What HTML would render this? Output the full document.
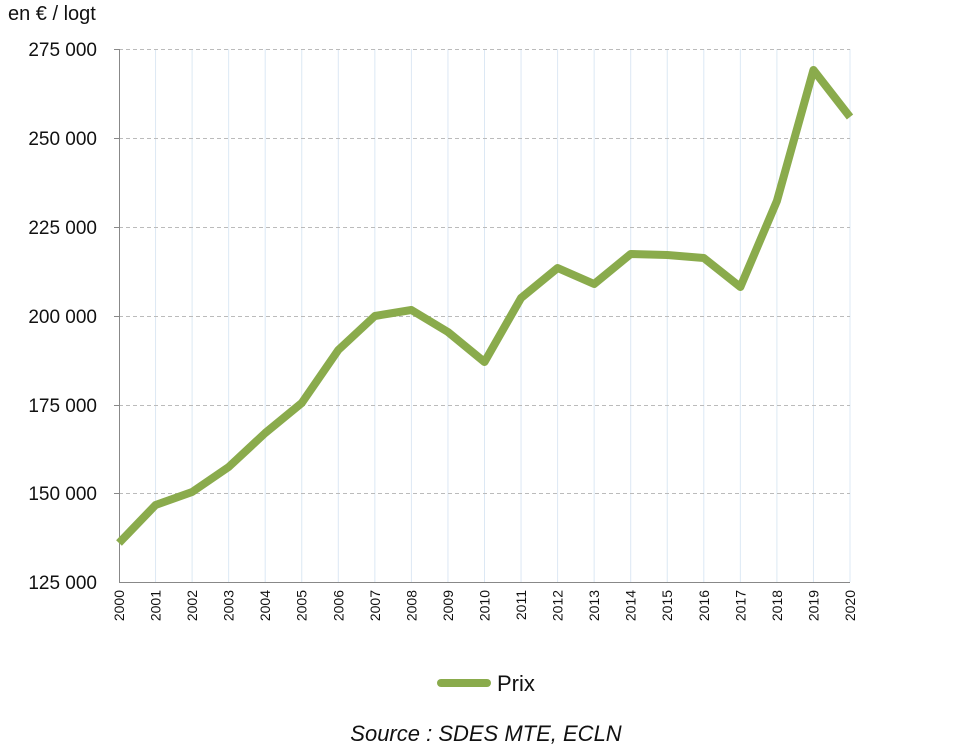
<!DOCTYPE html>
<html><head><meta charset="utf-8"><style>body{margin:0;background:#fff}svg{display:block}</style></head><body>
<svg width="973" height="751" xmlns="http://www.w3.org/2000/svg" font-family="Liberation Sans, sans-serif">
<rect width="973" height="751" fill="#fff"/>
<g stroke="#dce8f4" stroke-width="1">
<line x1="155.55" y1="49" x2="155.55" y2="582"/><line x1="192.1" y1="49" x2="192.1" y2="582"/><line x1="228.65" y1="49" x2="228.65" y2="582"/><line x1="265.2" y1="49" x2="265.2" y2="582"/><line x1="301.75" y1="49" x2="301.75" y2="582"/><line x1="338.3" y1="49" x2="338.3" y2="582"/><line x1="374.85" y1="49" x2="374.85" y2="582"/><line x1="411.4" y1="49" x2="411.4" y2="582"/><line x1="447.95" y1="49" x2="447.95" y2="582"/><line x1="484.5" y1="49" x2="484.5" y2="582"/><line x1="521.05" y1="49" x2="521.05" y2="582"/><line x1="557.6" y1="49" x2="557.6" y2="582"/><line x1="594.15" y1="49" x2="594.15" y2="582"/><line x1="630.7" y1="49" x2="630.7" y2="582"/><line x1="667.25" y1="49" x2="667.25" y2="582"/><line x1="703.8" y1="49" x2="703.8" y2="582"/><line x1="740.35" y1="49" x2="740.35" y2="582"/><line x1="776.9" y1="49" x2="776.9" y2="582"/><line x1="813.45" y1="49" x2="813.45" y2="582"/><line x1="850" y1="49" x2="850" y2="582"/>
</g>
<g stroke="#bbb" stroke-width="1" stroke-dasharray="4,3">
<line x1="119" y1="49.5" x2="850" y2="49.5"/><line x1="119" y1="138.5" x2="850" y2="138.5"/><line x1="119" y1="227.5" x2="850" y2="227.5"/><line x1="119" y1="316.5" x2="850" y2="316.5"/><line x1="119" y1="405.5" x2="850" y2="405.5"/><line x1="119" y1="493.5" x2="850" y2="493.5"/>
</g>
<line x1="119.5" y1="49" x2="119.5" y2="582" stroke="#888"/>
<line x1="119" y1="582.5" x2="850" y2="582.5" stroke="#888"/>
<g stroke="#888"><line x1="114" y1="49.5" x2="119" y2="49.5"/><line x1="114" y1="138.5" x2="119" y2="138.5"/><line x1="114" y1="227.5" x2="119" y2="227.5"/><line x1="114" y1="316.5" x2="119" y2="316.5"/><line x1="114" y1="405.5" x2="119" y2="405.5"/><line x1="114" y1="493.5" x2="119" y2="493.5"/></g>
<g font-size="19" fill="#111" text-anchor="end">
<text x="97" y="56">275 000</text><text x="97" y="145">250 000</text><text x="97" y="234">225 000</text><text x="97" y="323">200 000</text><text x="97" y="412">175 000</text><text x="97" y="500">150 000</text><text x="97" y="589">125 000</text>
</g>
<text x="8" y="20" font-size="20" fill="#111">en € / logt</text>
<g font-size="14" fill="#111" text-anchor="end">
<text transform="translate(124,590) rotate(-90)">2000</text><text transform="translate(160.5,590) rotate(-90)">2001</text><text transform="translate(197,590) rotate(-90)">2002</text><text transform="translate(233.6,590) rotate(-90)">2003</text><text transform="translate(270.2,590) rotate(-90)">2004</text><text transform="translate(306.7,590) rotate(-90)">2005</text><text transform="translate(343.3,590) rotate(-90)">2006</text><text transform="translate(379.8,590) rotate(-90)">2007</text><text transform="translate(416.4,590) rotate(-90)">2008</text><text transform="translate(452.9,590) rotate(-90)">2009</text><text transform="translate(489.5,590) rotate(-90)">2010</text><text transform="translate(526,590) rotate(-90)">2011</text><text transform="translate(562.6,590) rotate(-90)">2012</text><text transform="translate(599.1,590) rotate(-90)">2013</text><text transform="translate(635.7,590) rotate(-90)">2014</text><text transform="translate(672.2,590) rotate(-90)">2015</text><text transform="translate(708.8,590) rotate(-90)">2016</text><text transform="translate(745.3,590) rotate(-90)">2017</text><text transform="translate(781.9,590) rotate(-90)">2018</text><text transform="translate(818.4,590) rotate(-90)">2019</text><text transform="translate(855,590) rotate(-90)">2020</text>
</g>
<polyline fill="none" stroke="#8aab4c" stroke-width="8" stroke-linejoin="round" points="119,543 155.55,505 192.1,492 228.65,467 265.2,433 301.75,403 338.3,350 374.85,316 411.4,310 447.95,332 484.5,362 521.05,298 557.6,268 594.15,284 630.7,254 667.25,255 703.8,258 740.35,287 776.9,201 813.45,70 850,117"/>
<line x1="441" y1="683" x2="487" y2="683" stroke="#8aab4c" stroke-width="8" stroke-linecap="round"/>
<text x="497" y="691" font-size="22" fill="#111">Prix</text>
<text x="486" y="741" font-size="22" font-style="italic" fill="#111" text-anchor="middle">Source : SDES MTE, ECLN</text>
</svg>
</body></html>
